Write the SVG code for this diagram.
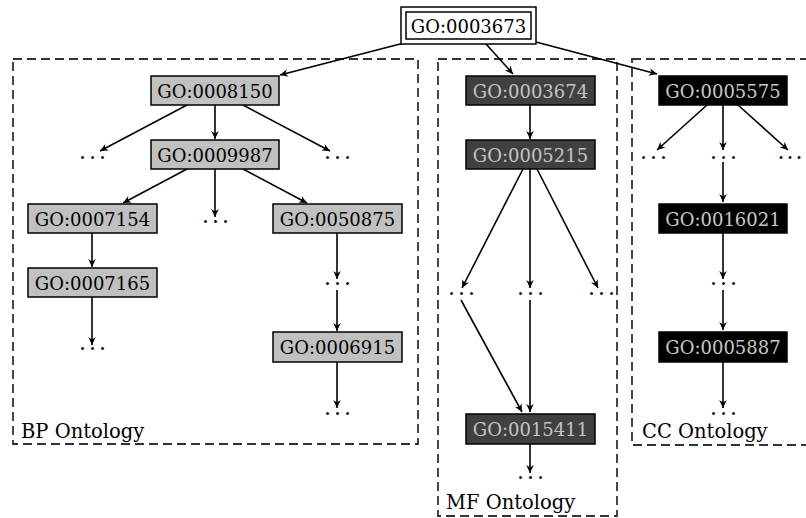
<svg xmlns="http://www.w3.org/2000/svg" width="806" height="518" viewBox="0 0 806 518">
<style>
text{font-family:'DejaVu Serif','Liberation Serif',serif;}
.grp{fill:none;stroke:#333;stroke-width:1.8;stroke-dasharray:9 5;}
.lbl{font-size:19.5px;fill:#000;}
.n rect{stroke:#000;stroke-width:1.5;}
.n text{font-size:18px;text-anchor:middle;}
.bp rect{fill:#c0c0c0;} .bp text{fill:#000;}
.mf rect{fill:#404040;} .mf text{fill:#c4c4c4;}
.cc rect{fill:#000;} .cc text{fill:#c8c8c8;}
.dots{font-size:22px;text-anchor:middle;letter-spacing:3px;fill:#000;}
.e path{fill:none;stroke:#000;stroke-width:1.6;marker-end:url(#ah);}
</style>
<defs>
<marker id="ah" markerUnits="userSpaceOnUse" markerWidth="12" markerHeight="10" refX="0" refY="0" viewBox="-10 -5 12 10" orient="auto">
<path d="M0,0 L-8,-3.8 L-5.5,0 L-8,3.8 Z" fill="#000"/>
</marker>
</defs>
<g id="groups">
<rect class="grp" x="13" y="59" width="405" height="385"/>
<rect class="grp" x="438" y="59" width="179" height="457"/>
<rect class="grp" x="632" y="59" width="190" height="386"/>
<text class="lbl" x="21" y="438">BP Ontology</text>
<text class="lbl" x="446" y="509">MF Ontology</text>
<text class="lbl" x="642" y="438">CC Ontology</text>
</g>
<g id="connectors" class="e">
<path d="M404,43 L280,75"/>
<path d="M486,44 L513,74"/>
<path d="M536,42 L657,74"/>
<path d="M187,105 L100,151"/>
<path d="M215,105 L215,139"/>
<path d="M243,105 L330,151"/>
<path d="M187,169 L123,203"/>
<path d="M215,169 L215,217"/>
<path d="M243,169 L307,203"/>
<path d="M92,233 L92,267"/>
<path d="M92,297 L92,345"/>
<path d="M337,233 L337,279"/>
<path d="M337,290 L337,331"/>
<path d="M337,362 L337,408"/>
<path d="M530,105 L530,139"/>
<path d="M523,169 L462,288"/>
<path d="M530,169 L530,288"/>
<path d="M537,169 L598,288"/>
<path d="M461,300 L522,412"/>
<path d="M530,300 L530,412"/>
<path d="M530,444 L530,473"/>
<path d="M707,105 L657,150"/>
<path d="M723,105 L723,150"/>
<path d="M738,105 L788,150"/>
<path d="M723,162 L723,202"/>
<path d="M723,233 L723,279"/>
<path d="M723,290 L723,330"/>
<path d="M723,362 L723,408"/>
</g>
<g id="root" class="n">
<rect x="401" y="7" width="135" height="37" fill="#fff"/>
<rect x="406" y="12" width="125" height="27" fill="#fff"/>
<text x="468.5" y="32.5" fill="#000">GO:0003673</text>
</g>
<g id="n0008150" class="n bp"><rect x="151" y="76" width="128" height="29"/><text x="215" y="97.5">GO:0008150</text></g>
<g id="n0009987" class="n bp"><rect x="151" y="140" width="128" height="29"/><text x="215" y="161.5">GO:0009987</text></g>
<g id="n0007154" class="n bp"><rect x="28" y="204" width="129" height="29"/><text x="92.5" y="225.5">GO:0007154</text></g>
<g id="n0050875" class="n bp"><rect x="273" y="204" width="129" height="29"/><text x="337.5" y="225.5">GO:0050875</text></g>
<g id="n0007165" class="n bp"><rect x="28" y="268" width="129" height="29"/><text x="92.5" y="289.5">GO:0007165</text></g>
<g id="n0006915" class="n bp"><rect x="273" y="332" width="129" height="30"/><text x="337.5" y="354">GO:0006915</text></g>
<g id="n0003674" class="n mf"><rect x="466" y="76" width="129" height="29"/><text x="530.5" y="97.5">GO:0003674</text></g>
<g id="n0005215" class="n mf"><rect x="466" y="140" width="129" height="29"/><text x="530.5" y="161.5">GO:0005215</text></g>
<g id="n0015411" class="n mf"><rect x="466" y="414" width="129" height="30"/><text x="530.5" y="436">GO:0015411</text></g>
<g id="n0005575" class="n cc"><rect x="659" y="76" width="128" height="29"/><text x="723" y="97.5">GO:0005575</text></g>
<g id="n0016021" class="n cc"><rect x="659" y="204" width="128" height="29"/><text x="723" y="225.5">GO:0016021</text></g>
<g id="n0005887" class="n cc"><rect x="659" y="332" width="128" height="30"/><text x="723" y="354">GO:0005887</text></g>
<g id="dots">
<text class="dots" x="94" y="159">...</text>
<text class="dots" x="339" y="159">...</text>
<text class="dots" x="217" y="223">...</text>
<text class="dots" x="339" y="285">...</text>
<text class="dots" x="94" y="350">...</text>
<text class="dots" x="339" y="415">...</text>
<text class="dots" x="463" y="295">...</text>
<text class="dots" x="532" y="295">...</text>
<text class="dots" x="603" y="295">...</text>
<text class="dots" x="532" y="479">...</text>
<text class="dots" x="655" y="159">...</text>
<text class="dots" x="725" y="159">...</text>
<text class="dots" x="791" y="159" style="letter-spacing:2px">...</text>
<text class="dots" x="725" y="285">...</text>
<text class="dots" x="725" y="415">...</text>
</g>
</svg>
